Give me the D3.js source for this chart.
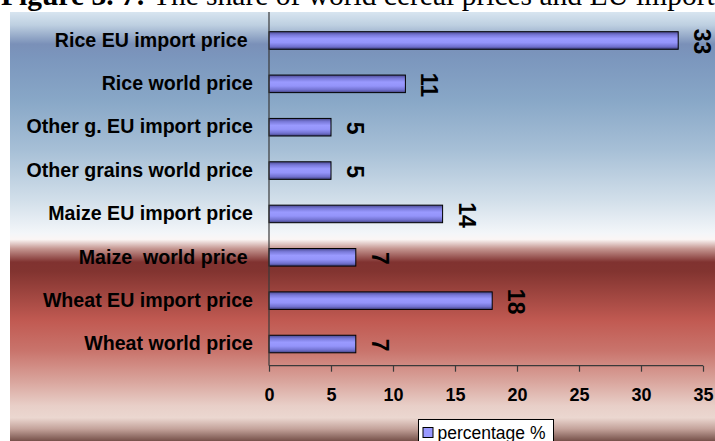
<!DOCTYPE html>
<html>
<head>
<meta charset="utf-8">
<script src="https://cdn.jsdelivr.net/npm/d3@7"></script>
<style>
  html, body { margin: 0; padding: 0; background: #ffffff; }
  svg { display: block; }
  text { white-space: pre; }
</style>
</head>
<body>
<svg id="chart" width="715" height="441"></svg>
<script>
// Share of world cereal prices and EU import prices (percentage %)
const categories = [
  "Rice EU import price ",
  "Rice world price",
  "Other g. EU import price",
  "Other grains world price",
  "Maize EU import price",
  "Maize  world price ",
  "Wheat EU import price",
  "Wheat world price"
];
const percentage = [33, 11, 5, 5, 14, 7, 18, 7];
const xTicks = [0, 5, 10, 15, 20, 25, 30, 35];
const seriesName = "percentage %";
const titleLead = "Figure 3. 7: ";
const titleRest = "The share of world cereal prices and EU import";

const W = 715, H = 441;
const svg = d3.select("#chart");
const defs = svg.append("defs");

// Chart-area background: blue sky fading to white, then a red band fading to pink
const bg = defs.append("linearGradient")
  .attr("id", "bgGrad").attr("x1", 0).attr("y1", 0).attr("x2", 0).attr("y2", 1);
[
  [0.000, "#d8e5f0"],
  [0.030, "#bed0e1"],
  [0.075, "#7a90b8"],
  [0.105, "#7b96bd"],
  [0.205, "#88a7c7"],
  [0.320, "#a6bfd6"],
  [0.440, "#d2dfea"],
  [0.515, "#f3f6f9"],
  [0.530, "#fbf6f5"],
  [0.552, "#c49590"],
  [0.583, "#803230"],
  [0.605, "#823430"],
  [0.720, "#c15a52"],
  [0.790, "#c9746c"],
  [0.860, "#d9a49c"],
  [0.918, "#e8cfc8"],
  [0.946, "#ebd7d0"],
  [0.972, "#c3a29a"],
  [1.000, "#76514a"]
].forEach(([o, c]) => bg.append("stop").attr("offset", o).attr("stop-color", c));

// Bar fill: darker rims above and below a lavender core
const barGrad = defs.append("linearGradient")
  .attr("id", "barGrad").attr("x1", 0).attr("y1", 0).attr("x2", 0).attr("y2", 1);
[
  [0.00, "#4a4a90"],
  [0.18, "#7878d8"],
  [0.40, "#9a9aff"],
  [0.62, "#9494fa"],
  [0.84, "#7272d0"],
  [1.00, "#40407e"]
].forEach(([o, c]) => barGrad.append("stop").attr("offset", o).attr("stop-color", c));

svg.append("rect")
  .attr("x", 10).attr("y", 12)
  .attr("width", W - 10).attr("height", H - 12)
  .attr("fill", "url(#bgGrad)");

// Title line (partly above the frame)
const title = svg.append("text")
  .attr("x", 1).attr("y", 5)
  .attr("font-family", "'Liberation Serif', 'Times New Roman', serif")
  .attr("font-size", 29.5)
  .attr("fill", "#000");
title.append("tspan").attr("font-weight", "bold").text(titleLead);
title.append("tspan").text(titleRest);

// Plot geometry
const plotLeft = 269, plotRight = 703;
const plotTop = 18.8, plotBottom = 365.7;

const x = d3.scaleLinear().domain([0, 35]).range([plotLeft, plotRight]);
const y = d3.scaleBand().domain(categories).range([plotTop, plotBottom]).padding(0);
const barH = y.bandwidth() * 0.405;

// Bars
svg.append("g").selectAll("rect")
  .data(categories)
  .join("rect")
  .attr("x", x(0))
  .attr("y", d => y(d) + (y.bandwidth() - barH) / 2)
  .attr("width", (d, i) => x(percentage[i]) - x(0))
  .attr("height", barH)
  .attr("fill", "url(#barGrad)")
  .attr("stroke", "#000")
  .attr("stroke-width", 1);

// Value labels, rotated to read downward
svg.append("g").selectAll("text")
  .data(categories)
  .join("text")
  .attr("transform", (d, i) =>
    `translate(${x(percentage[i]) + 16},${y(d) + y.bandwidth() / 2 + 1}) rotate(90)`)
  .attr("text-anchor", "middle")
  .attr("font-family", "'Liberation Sans', Arial, sans-serif")
  .attr("font-weight", "bold")
  .attr("font-size", 23)
  .attr("fill", "#000")
  .text((d, i) => percentage[i]);

// Category axis
const yAxis = svg.append("g")
  .attr("transform", `translate(${plotLeft},0)`)
  .call(d3.axisLeft(y).tickSize(0).tickPadding(16));
yAxis.select(".domain").remove();
yAxis.selectAll("text")
  .attr("font-family", "'Liberation Sans', Arial, sans-serif")
  .attr("font-weight", "bold")
  .attr("font-size", 19.6)
  .attr("fill", "#000");
svg.append("line")
  .attr("x1", plotLeft).attr("x2", plotLeft)
  .attr("y1", 12).attr("y2", plotBottom)
  .attr("stroke", "#3a3a3a").attr("stroke-width", 1.2);

// Value axis
const xAxis = svg.append("g")
  .attr("transform", `translate(0,${plotBottom})`)
  .call(d3.axisBottom(x).tickValues(xTicks).tickSize(6).tickPadding(17));
xAxis.select(".domain")
  .attr("d", `M${plotLeft},0H${plotRight}`)
  .attr("stroke", "#3a3a3a").attr("stroke-width", 1.2);
xAxis.selectAll(".tick line").attr("stroke", "#3a3a3a").attr("stroke-width", 1.2);
xAxis.selectAll("text")
  .attr("font-family", "'Liberation Sans', Arial, sans-serif")
  .attr("font-weight", "bold")
  .attr("font-size", 18)
  .attr("fill", "#000");

// Legend
const legend = svg.append("g").attr("transform", "translate(418.5,419.5)");
legend.append("rect")
  .attr("width", 135).attr("height", 26)
  .attr("fill", "#fff").attr("stroke", "#000").attr("stroke-width", 1);
legend.append("rect")
  .attr("x", 4.5).attr("y", 8).attr("width", 10).attr("height", 10)
  .attr("fill", "#9999ff").attr("stroke", "#000").attr("stroke-width", 1);
legend.append("text")
  .attr("x", 19).attr("y", 19)
  .attr("font-family", "'Liberation Sans', Arial, sans-serif")
  .attr("font-size", 17.5)
  .attr("fill", "#000")
  .text(seriesName);
</script>
</body>
</html>
